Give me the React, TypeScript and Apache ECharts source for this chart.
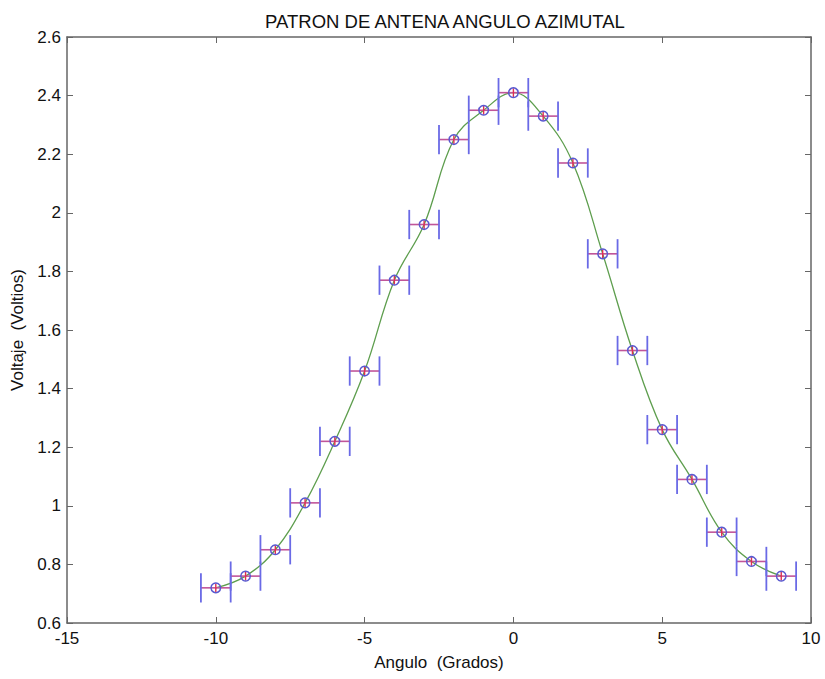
import React, { useEffect, useRef } from "react";
import * as echarts from "echarts";

// Measured antenna pattern: azimuth angle (degrees) vs. voltage (volts)
const angles = [-10, -9, -8, -7, -6, -5, -4, -3, -2, -1, 0, 1, 2, 3, 4, 5, 6, 7, 8, 9];
const voltages = [0.72, 0.76, 0.85, 1.01, 1.22, 1.46, 1.77, 1.96, 2.25, 2.35, 2.41, 2.33, 2.17, 1.86, 1.53, 1.26, 1.09, 0.91, 0.81, 0.76];

// Uncertainties
const angleError = 0.5; // horizontal error bar half-width (degrees)
const capHalfHeight = 0.05; // end caps of horizontal bars (volts)
const voltageError = 0.015; // small vertical error bar (volts)

const xTicks = { min: -15, max: 10, step: 5 };
const yTicks = { min: 0.6, max: 2.6, step: 0.2 };

const FONT = "Liberation Sans, Arial, sans-serif";

export default function App() {
  const ref = useRef<HTMLDivElement>(null);

  useEffect(() => {
    if (!ref.current) return;
    const chart = echarts.init(ref.current, null, { renderer: "svg" });
    const points = angles.map((a, i) => [a, voltages[i]]);

    const axisColor = "#666";
    const fmtY = (v: number) => String(Math.round(v * 10) / 10);
    const line = { show: true, onZero: false, lineStyle: { color: axisColor, width: 1.5 } };
    const tick = { show: true, inside: true, length: 6, lineStyle: { color: axisColor } };

    chart.setOption({
      animation: false,
      backgroundColor: "#fff",
      title: {
        text: "PATRON DE ANTENA ANGULO AZIMUTAL",
        left: 440,
        top: 7,
        textAlign: "center",
        textStyle: { fontFamily: FONT, fontSize: 18.5, fontWeight: "normal", color: "#111" },
      },
      grid: { left: 67, top: 37, width: 744, height: 586 },
      xAxis: [
        {
          type: "value",
          min: xTicks.min,
          max: xTicks.max,
          interval: xTicks.step,
          position: "bottom",
          name: "Angulo  (Grados)",
          nameLocation: "middle",
          nameGap: 31,
          nameTextStyle: { fontFamily: FONT, fontSize: 17, color: "#111" },
          axisLine: line,
          axisTick: tick,
          axisLabel: { fontFamily: FONT, fontSize: 17, color: "#111", margin: 7 },
          splitLine: { show: false },
        },
        {
          type: "value",
          min: xTicks.min,
          max: xTicks.max,
          interval: xTicks.step,
          position: "top",
          axisLine: line,
          axisTick: tick,
          axisLabel: { show: false },
          splitLine: { show: false },
        },
      ],
      yAxis: [
        {
          type: "value",
          min: yTicks.min,
          max: yTicks.max,
          interval: yTicks.step,
          position: "left",
          name: "Voltaje  (Voltios)",
          nameLocation: "middle",
          nameGap: 40,
          nameTextStyle: { fontFamily: FONT, fontSize: 17, color: "#111" },
          axisLine: line,
          axisTick: tick,
          axisLabel: { fontFamily: FONT, fontSize: 17, color: "#111", margin: 6, formatter: fmtY },
          splitLine: { show: false },
        },
        {
          type: "value",
          min: yTicks.min,
          max: yTicks.max,
          interval: yTicks.step,
          position: "right",
          axisLine: line,
          axisTick: tick,
          axisLabel: { show: false },
          splitLine: { show: false },
        },
      ],
      series: [
        {
          type: "line",
          data: points,
          smooth: 0.4,
          symbol: "none",
          lineStyle: { color: "#5e9e4e", width: 1.3 },
          z: 2,
        },
        {
          type: "custom",
          data: points,
          z: 3,
          renderItem: (_params: any, api: any) => {
            const x = api.value(0);
            const y = api.value(1);
            const c = api.coord([x, y]);
            const l = api.coord([x - angleError, y]);
            const r = api.coord([x + angleError, y]);
            const capT = api.coord([x, y + capHalfHeight])[1];
            const capB = api.coord([x, y - capHalfHeight])[1];
            const vT = api.coord([x, y + voltageError])[1];
            const vB = api.coord([x, y - voltageError])[1];
            const blue = "#6a6ae6";
            const pink = "#c0559a";
            return {
              type: "group",
              children: [
                { type: "line", shape: { x1: l[0], y1: c[1], x2: r[0], y2: c[1] }, style: { stroke: pink, lineWidth: 1.6 } },
                { type: "line", shape: { x1: l[0], y1: capT, x2: l[0], y2: capB }, style: { stroke: blue, lineWidth: 1.8 } },
                { type: "line", shape: { x1: r[0], y1: capT, x2: r[0], y2: capB }, style: { stroke: blue, lineWidth: 1.8 } },
                { type: "line", shape: { x1: c[0], y1: vT, x2: c[0], y2: vB }, style: { stroke: "#e03050", lineWidth: 1.4 } },
                { type: "circle", shape: { cx: c[0], cy: c[1], r: 4.8 }, style: { fill: "rgba(255,255,255,0)", stroke: "#5a5ad0", lineWidth: 1.5 } },
              ],
            };
          },
        },
      ],
    });

    return () => chart.dispose();
  }, []);

  return (
    <div
      ref={ref}
      style={{ position: "fixed", left: 0, top: 0, width: 825, height: 679, background: "#fff" }}
    />
  );
}
